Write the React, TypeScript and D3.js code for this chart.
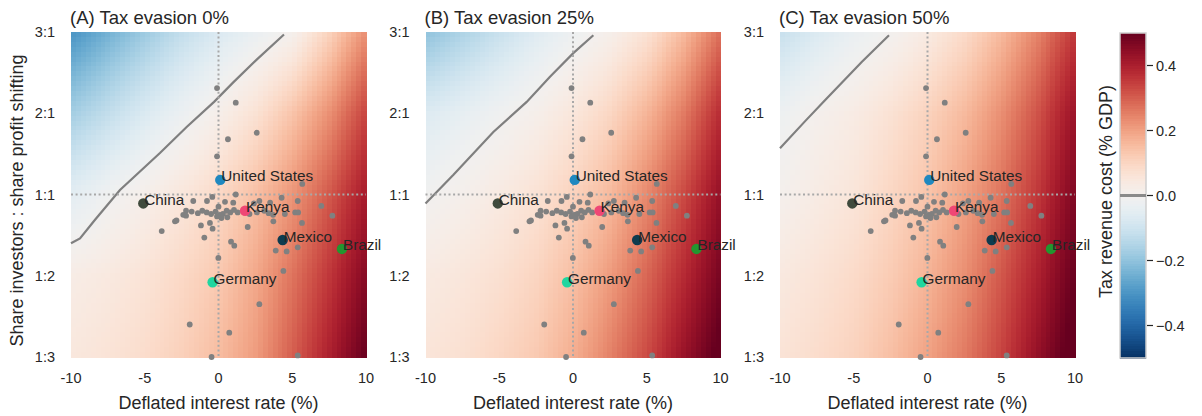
import * as d3 from "d3";

// ---- data ----
const panelTitles = ["(A) Tax evasion 0%", "(B) Tax evasion 25%", "(C) Tax evasion 50%"];

// tax revenue cost (% GDP) estimated at coarse grid points
const gridX = [-10, -7.5, -5, -2.5, 0, 2.5, 5, 7.5, 10];
const gridY = [2, 1, 0, -1, -2];

const costA = [
  [-0.3, -0.24, -0.18, -0.12, -0.07, -0.03, 0.008, 0.11, 0.23],
  [-0.17, -0.12, -0.07, -0.025, 0.02, 0.07, 0.14, 0.23, 0.34],
  [-0.05, -0.012, 0.02, 0.055, 0.095, 0.15, 0.22, 0.31, 0.41],
  [0.03, 0.045, 0.065, 0.095, 0.13, 0.19, 0.27, 0.36, 0.46],
  [0.05, 0.065, 0.085, 0.115, 0.155, 0.21, 0.3, 0.4, 0.5],
];
const costB = [
  [-0.2, -0.155, -0.11, -0.06, -0.02, 0.017, 0.07, 0.16, 0.28],
  [-0.065, -0.04, -0.012, 0.018, 0.055, 0.1, 0.17, 0.26, 0.38],
  [-0.006, 0.015, 0.04, 0.07, 0.11, 0.16, 0.24, 0.33, 0.44],
  [0.04, 0.055, 0.075, 0.105, 0.15, 0.21, 0.29, 0.38, 0.48],
  [0.06, 0.075, 0.1, 0.13, 0.18, 0.25, 0.33, 0.43, 0.52],
];
const costC = [
  [-0.11, -0.07, -0.03, 0.001, 0.04, 0.09, 0.16, 0.25, 0.36],
  [-0.02, 0.01, 0.035, 0.07, 0.11, 0.16, 0.23, 0.32, 0.43],
  [0.01, 0.035, 0.06, 0.1, 0.14, 0.2, 0.27, 0.36, 0.47],
  [0.045, 0.065, 0.09, 0.125, 0.17, 0.23, 0.31, 0.4, 0.5],
  [0.065, 0.085, 0.11, 0.15, 0.2, 0.26, 0.34, 0.44, 0.53],
];

// zero-cost contour
const zeroLineA: [number, number][] = [
  [-10, -0.6], [-9.39, -0.54], [-8.37, -0.31], [-6.68, 0.055], [-3.97, 0.51],
  [-2.16, 0.83], [-0.3, 1.14], [1.0, 1.38], [2.59, 1.66], [4.44, 1.97],
];
const zeroLineB: [number, number][] = [
  [-10, -0.11], [-8.12, 0.24], [-5.4, 0.77], [-3.14, 1.14], [-1.56, 1.45],
  [0.02, 1.74], [1.38, 1.96],
];
const zeroLineC: [number, number][] = [
  [-10, 0.57], [-8.31, 0.9], [-6.95, 1.16], [-4.46, 1.63], [-2.61, 1.96],
];

const xTicks = [-10, -5, 0, 5, 10];
const yTicks = [2, 1, 0, -1, -2];
const yTickLabels = ["3:1", "2:1", "1:1", "1:2", "1:3"];
const cbTicks = [0.4, 0.2, 0, -0.2, -0.4];

// other countries: [interest rate, ratio position]
const otherCountries: [number, number][] = [
  [-0.1, 1.31], [1.17, 1.13], [2.59, 0.76], [0.64, 0.68], [-0.1, 0.47], [5.68, 0.13],
  [1.17, 0.0], [-0.42, -0.03], [4.28, -0.04],
  [-1.71, -0.08], [-0.78, -0.08], [0.44, -0.09], [1.0, -0.1], [2.77, -0.08], [5.37, -0.08],
  [2.4, -0.11], [3.5, -0.1], [6.97, -0.14], [0.0, -0.15],
  [-2.2, -0.2], [-1.82, -0.21], [-2.39, -0.25], [-2.2, -0.26], [-1.4, -0.23], [-1.1, -0.2],
  [-0.8, -0.22], [-0.5, -0.24], [-0.2, -0.21], [-0.1, -0.27], [0.1, -0.25], [0.3, -0.24],
  [0.55, -0.2], [0.8, -0.22], [1.05, -0.19], [1.3, -0.22], [0.6, -0.28], [0.2, -0.29],
  [2.1, -0.24], [2.6, -0.22], [3.1, -0.2], [3.4, -0.23], [3.7, -0.25], [4.5, -0.24],
  [5.2, -0.22], [5.4, -0.22], [7.72, -0.26],
  [-2.95, -0.33], [-2.85, -0.32], [-1.19, -0.38], [-0.58, -0.35], [-0.4, -0.42],
  [-3.85, -0.45], [1.98, -0.4], [3.72, -0.33], [5.66, -0.35],
  [-0.96, -0.53], [0.85, -0.58], [1.07, -0.63], [5.37, -0.65], [3.88, -0.69], [4.62, -0.7],
  [-0.01, -0.78], [4.4, -0.94], [2.77, -1.35], [-1.95, -1.6], [0.73, -1.7],
  [-0.47, -2.0], [5.37, -1.98],
];

const countryNames = ["United States", "China", "Kenya", "Mexico", "Brazil", "Germany"];
const countryX = [0.12, -5.1, 1.8, 4.35, 8.37, -0.4];
const countryY = [0.18, -0.11, -0.2, -0.56, -0.67, -1.08];
const countryColors = ["#1f88c0", "#3f4a3c", "#ef4775", "#0d3b4f", "#23962f", "#1fd6a0"];

// ---- layout ----
const W = 1202;
const H = 416;
const panelLeft = [71, 425.5, 780];
const panelW = 295;
const top = 32;
const bottom = 357;
const font = "'Liberation Sans', Arial, sans-serif";
const ink = "#262626";

const color = d3
  .scaleSequential((t: number) => d3.interpolateRdBu(1 - t))
  .domain([-0.5, 0.5])
  .clamp(true);

function sample(table: number[][], x: number, y: number) {
  const fx = (x - gridX[0]) / (gridX[1] - gridX[0]);
  const i = Math.max(0, Math.min(gridX.length - 2, Math.floor(fx)));
  const tx = fx - i;
  const fy = (gridY[0] - y) / (gridY[0] - gridY[1]);
  const j = Math.max(0, Math.min(gridY.length - 2, Math.floor(fy)));
  const ty = fy - j;
  const a = table[j][i] * (1 - tx) + table[j][i + 1] * tx;
  const b = table[j + 1][i] * (1 - tx) + table[j + 1][i + 1] * tx;
  return a * (1 - ty) + b * ty;
}

const NX = 60;
const NY = 66;

const Panel = ({ idx, table, zero }: { idx: number; table: number[][]; zero: [number, number][] }) => {
  const x0 = panelLeft[idx];
  const xScale = d3.scaleLinear().domain([-10, 10]).range([x0, x0 + panelW]);
  const yScale = d3.scaleLinear().domain([-2, 2]).range([bottom, top]);
  const cells = [];
  const cw = panelW / NX;
  const ch = (bottom - top) / NY;
  for (let i = 0; i < NX; i++) {
    for (let j = 0; j < NY; j++) {
      const xv = -10 + ((i + 0.5) * 20) / NX;
      const yv = 2 - ((j + 0.5) * 4) / NY;
      cells.push(
        <rect
          key={i + "-" + j}
          x={x0 + i * cw}
          y={top + j * ch}
          width={cw + 0.6}
          height={ch + 0.6}
          fill={color(sample(table, xv, yv))}
        />
      );
    }
  }
  const line = d3
    .line<[number, number]>()
    .x((d) => xScale(d[0]))
    .y((d) => yScale(d[1]));

  return (
    <g>
      <g shapeRendering="crispEdges">{cells}</g>
      <path d={line(zero) || ""} fill="none" stroke="#7f7f7f" strokeWidth={2.2} />
      <line x1={xScale(0)} x2={xScale(0)} y1={top} y2={bottom} stroke="#a8a8a8" strokeWidth={2} strokeDasharray="2,2.6" />
      <line x1={x0} x2={x0 + panelW} y1={yScale(0)} y2={yScale(0)} stroke="#a8a8a8" strokeWidth={2} strokeDasharray="2,2.6" />
      {otherCountries.map((d, k) => (
        <circle key={k} cx={xScale(d[0])} cy={yScale(d[1])} r={2.9} fill="#808080" />
      ))}
      {countryNames.map((n, k) => (
        <circle key={n} cx={xScale(countryX[k])} cy={yScale(countryY[k])} r={5.2} fill={countryColors[k]} />
      ))}
      {countryNames.map((n, k) => (
        <text key={"t" + n} x={xScale(countryX[k]) + 1} y={yScale(countryY[k]) + 1.5} fontSize={15.3} fill={ink}>
          {n}
        </text>
      ))}
      <text x={x0 - 1} y={23.5} fontSize={18.5} fill={ink}>
        {panelTitles[idx]}
      </text>
      {xTicks.map((t) => (
        <text key={"x" + t} x={xScale(t)} y={383} fontSize={14.5} textAnchor="middle" fill={ink}>
          {String(t)}
        </text>
      ))}
      {yTicks.map((t, k) => (
        <text key={"y" + t} x={x0 - 16} y={yScale(t)} fontSize={14.5} textAnchor="end" dominantBaseline="central" fill={ink}>
          {yTickLabels[k]}
        </text>
      ))}
      <text x={x0 + panelW / 2} y={409} fontSize={18} textAnchor="middle" fill={ink}>
        Deflated interest rate (%)
      </text>
    </g>
  );
};

const ColorBar = () => {
  const cx0 = 1120;
  const cx1 = 1146;
  const cy0 = 33;
  const cy1 = 358;
  const s = d3.scaleLinear().domain([-0.5, 0.5]).range([cy1, cy0]);
  const steps = d3.range(0, 130);
  const fmt = d3.format(".1f");
  return (
    <g>
      <g shapeRendering="crispEdges">
        {steps.map((k) => {
          const v0 = -0.5 + k / 130;
          const v1 = -0.5 + (k + 1) / 130;
          return (
            <rect key={k} x={cx0} width={cx1 - cx0} y={s(v1)} height={s(v0) - s(v1) + 0.6} fill={color((v0 + v1) / 2)} />
          );
        })}
      </g>
      <rect x={cx0} y={cy0} width={cx1 - cx0} height={cy1 - cy0} fill="none" stroke="#cfcfcf" strokeWidth={1.5} />
      <line x1={cx0} x2={cx1} y1={s(0)} y2={s(0)} stroke="#8a8a8a" strokeWidth={3} />
      {cbTicks.map((t) => (
        <g key={t}>
          <line x1={cx1 + 1} x2={cx1 + 7} y1={s(t)} y2={s(t)} stroke={ink} strokeWidth={1.2} />
          <text x={cx1 + 10} y={s(t)} fontSize={14.5} dominantBaseline="central" fill={ink}>
            {fmt(t)}
          </text>
        </g>
      ))}
      <text
        transform={`translate(1106,${(cy0 + cy1) / 2 - 4}) rotate(-90)`}
        fontSize={18}
        textAnchor="middle"
        dominantBaseline="central"
        fill={ink}
      >
        Tax revenue cost (% GDP)
      </text>
    </g>
  );
};

const App = () => {
  const tables = [costA, costB, costC];
  const zeros = [zeroLineA, zeroLineB, zeroLineC];
  return (
    <svg
      width={W}
      height={H}
      style={{ position: "absolute", left: 0, top: 0, background: "#fff" }}
      fontFamily={font}
    >
      {tables.map((t, i) => (
        <Panel key={i} idx={i} table={t} zero={zeros[i]} />
      ))}
      <text
        transform={`translate(17,${(top + bottom) / 2 + 6}) rotate(-90)`}
        fontSize={18}
        textAnchor="middle"
        dominantBaseline="central"
        fill={ink}
      >
        Share investors : share profit shifting
      </text>
      <ColorBar />
    </svg>
  );
};

export default App;
